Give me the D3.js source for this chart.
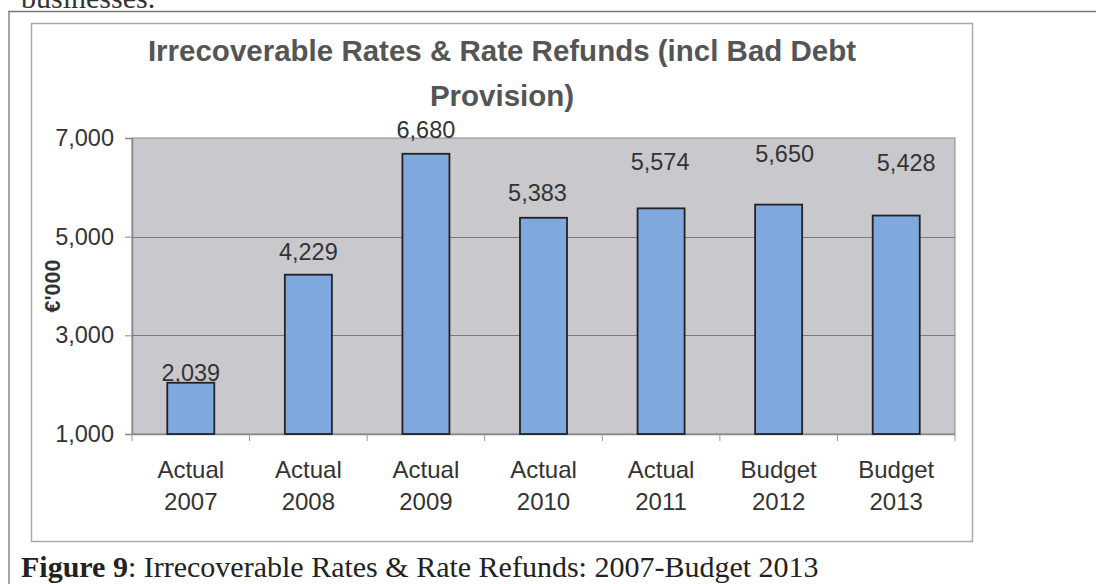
<!DOCTYPE html>
<html>
<head>
<meta charset="utf-8">
<script src="https://cdn.jsdelivr.net/npm/d3@7"></script>
<style>
  body { margin: 0; background: #fff; }
  svg { display: block; }
</style>
</head>
<body>
<script>
// chart data
var categories = ["Actual 2007", "Actual 2008", "Actual 2009", "Actual 2010", "Actual 2011", "Budget 2012", "Budget 2013"];
var values = [2039, 4229, 6680, 5383, 5574, 5650, 5428];
var yTicks = [1000, 3000, 5000, 7000];

// label nudges (px) so the value labels sit like in the original
var labelDy = [-2, -15, -16, -17, -38, -43, -45];
var labelDx = [0, 0, 0, -6, -1, 6, 10];

var W = 1096, H = 584;
var plot = { left: 132, right: 955, top: 138, bottom: 434 };

var commaFormat = d3.format(",.0f");

var svg = d3.select("body").append("svg")
    .attr("width", W)
    .attr("height", H)
    .style("font-family", "'Liberation Sans', Arial, sans-serif");

// cut-off text line from the page above
svg.append("text")
    .attr("x", 21).attr("y", 8)
    .style("font-family", "'Liberation Serif', 'Times New Roman', serif")
    .style("font-size", "30px")
    .attr("fill", "#333")
    .text("businesses.");

// page frame
svg.append("line").attr("x1", 8).attr("x2", W).attr("y1", 11.5).attr("y2", 11.5)
    .attr("stroke", "#777").attr("stroke-width", 1.5);
svg.append("line").attr("x1", 9).attr("x2", 9).attr("y1", 11).attr("y2", H)
    .attr("stroke", "#888").attr("stroke-width", 1.5);

// chart box
svg.append("rect")
    .attr("x", 31.5).attr("y", 23.5)
    .attr("width", 941).attr("height", 518)
    .attr("fill", "#fff")
    .attr("stroke", "#aaa").attr("stroke-width", 1.5);

var x = d3.scaleBand()
    .domain(categories)
    .range([plot.left, plot.right])
    .paddingInner(0.6)
    .paddingOuter(0.3);

var xOuter = d3.scaleBand()
    .domain(categories)
    .range([plot.left, plot.right]);

var y = d3.scaleLinear()
    .domain([1000, 7000])
    .range([plot.bottom, plot.top]);

// plot background
svg.append("rect")
    .attr("x", plot.left).attr("y", plot.top)
    .attr("width", plot.right - plot.left)
    .attr("height", plot.bottom - plot.top)
    .attr("fill", "#c9c9cd")
    .attr("stroke", "#8a8a8a").attr("stroke-width", 1);

// gridlines
svg.append("g")
    .selectAll("line")
    .data(yTicks.filter(function(d) { return d > 1000 && d < 7000; }))
    .enter().append("line")
    .attr("x1", plot.left).attr("x2", plot.right)
    .attr("y1", function(d) { return Math.round(y(d)) + 0.5; })
    .attr("y2", function(d) { return Math.round(y(d)) + 0.5; })
    .attr("stroke", "#7a7a7a").attr("stroke-width", 1.2);

// y axis
var yAxis = d3.axisLeft(y)
    .tickValues(yTicks)
    .tickFormat(commaFormat)
    .tickSize(7)
    .tickPadding(11);

var gy = svg.append("g")
    .attr("class", "axis y-axis")
    .attr("transform", "translate(" + plot.left + ",0)")
    .call(yAxis);
gy.select(".domain").attr("stroke", "#888").attr("stroke-width", 1.5);
gy.selectAll(".tick line").attr("stroke", "#888");
gy.selectAll("text")
    .attr("fill", "#333")
    .style("font-size", "23.5px")
    .style("font-family", "'Liberation Sans', Arial, sans-serif");

// x axis (ticks between categories)
var gx = svg.append("g")
    .attr("class", "axis x-axis")
    .attr("transform", "translate(0," + plot.bottom + ")");
gx.append("line")
    .attr("x1", plot.left).attr("x2", plot.right)
    .attr("y1", 0.5).attr("y2", 0.5)
    .attr("stroke", "#888").attr("stroke-width", 1.5);
gx.selectAll(".xtick")
    .data(categories.concat(["end"]))
    .enter().append("line")
    .attr("x1", function(d, i) { return i < categories.length ? xOuter(d) : plot.right; })
    .attr("x2", function(d, i) { return i < categories.length ? xOuter(d) : plot.right; })
    .attr("y1", 0).attr("y2", 7)
    .attr("stroke", "#999");

var xLabels = gx.selectAll(".xlabel")
    .data(categories)
    .enter().append("text")
    .attr("text-anchor", "middle")
    .attr("fill", "#333")
    .style("font-size", "24px")
    .attr("transform", function(d) { return "translate(" + (x(d) + x.bandwidth() / 2) + ",0)"; });
xLabels.append("tspan").attr("x", 0).attr("y", 44).text(function(d) { return d.split(" ")[0]; });
xLabels.append("tspan").attr("x", 0).attr("y", 76).text(function(d) { return d.split(" ")[1]; });

// bars
svg.append("g")
    .selectAll("rect")
    .data(values)
    .enter().append("rect")
    .attr("x", function(d, i) { return x(categories[i]); })
    .attr("y", function(d) { return y(d); })
    .attr("width", x.bandwidth())
    .attr("height", function(d) { return y(1000) - y(d); })
    .attr("fill", "#7fa8df")
    .attr("stroke", "#222")
    .attr("stroke-width", 1.8);

// value labels
svg.append("g")
    .selectAll("text")
    .data(values)
    .enter().append("text")
    .attr("x", function(d, i) { return x(categories[i]) + x.bandwidth() / 2 + labelDx[i]; })
    .attr("y", function(d, i) { return y(d) + labelDy[i]; })
    .attr("text-anchor", "middle")
    .attr("fill", "#333")
    .style("font-size", "23.5px")
    .text(function(d) { return commaFormat(d); });

// title
var title = svg.append("text")
    .attr("text-anchor", "middle")
    .attr("fill", "#555")
    .style("font-size", "29.5px")
    .style("font-weight", "bold");
title.append("tspan").attr("x", 502).attr("y", 61).text("Irrecoverable Rates & Rate Refunds (incl Bad Debt");
title.append("tspan").attr("x", 502).attr("y", 106).text("Provision)");

// y axis title
svg.append("text")
    .attr("transform", "translate(60," + ((plot.top + plot.bottom) / 2) + ") rotate(-90)")
    .attr("text-anchor", "middle")
    .attr("fill", "#333")
    .style("font-size", "21.5px")
    .style("font-weight", "bold")
    .text("€'000");

// figure caption
var cap = svg.append("text")
    .attr("x", 21).attr("y", 577)
    .attr("fill", "#222")
    .style("font-family", "'Liberation Serif', 'Times New Roman', serif")
    .style("font-size", "30px");
cap.append("tspan").style("font-weight", "bold").text("Figure 9");
cap.append("tspan").text(": Irrecoverable Rates & Rate Refunds: 2007-Budget 2013");
</script>
</body>
</html>
